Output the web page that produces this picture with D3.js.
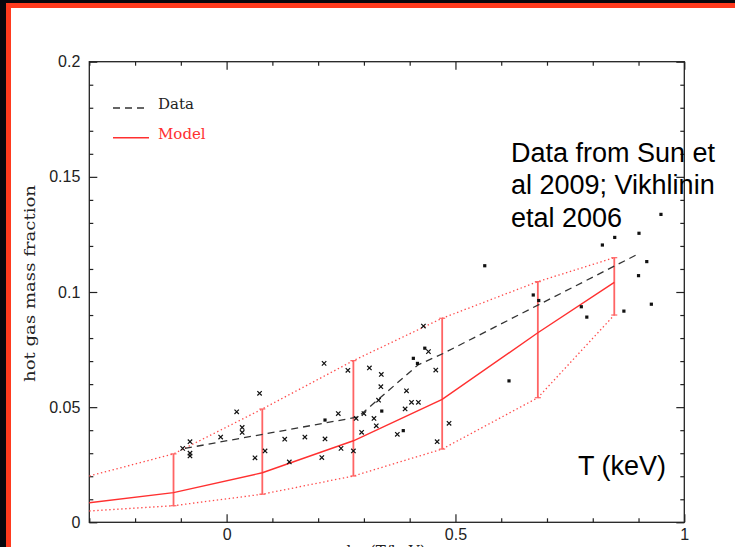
<!DOCTYPE html>
<html>
<head>
<meta charset="utf-8">
<script src="https://cdn.jsdelivr.net/npm/d3@7"></script>
<style>
  body { margin: 0; background: #07070d; }
  svg { display: block; }
</style>
</head>
<body>
<svg width="735" height="547"></svg>
<script>
// hot gas mass fraction vs log T, data points + model band

const xMajor = [0, 0.5, 1];
const xMajorLabels = ["0", "0.5", "1"];
const yMajor = [0, 0.05, 0.1, 0.15, 0.2];
const yMajorLabels = ["0", "0.05", "0.1", "0.15", "0.2"];

// model bins (error bars)
const binX  = [-0.116, 0.078, 0.277, 0.471, 0.680, 0.847];
const binHi = [0.0297, 0.0492, 0.0702, 0.0886, 0.1045, 0.1149];
const binLo = [0.0072, 0.0122, 0.0201, 0.0318, 0.0541, 0.0900];
const modelY = [0.0129, 0.0215, 0.0354, 0.0534, 0.0823, 0.1042];
// where model curves meet the left frame
const edgeX = -0.3;
const edgeModel = 0.0085, edgeHi = 0.0201, edgeLo = 0.0049;

// dashed data trend
const trendX = [-0.091, 0.287, 0.418, 0.473, 0.903];
const trendY = [0.0321, 0.0457, 0.0683, 0.0733, 0.1169];

// cross markers
const crossX = [-0.096, -0.080, -0.080, -0.080, -0.013, 0.022, 0.034, 0.034, 0.072, 0.062,
                0.084, 0.127, 0.137, 0.171, 0.213, 0.215, 0.208, 0.244, 0.250, 0.265,
                0.277, 0.283, 0.295, 0.300, 0.312, 0.322, 0.327, 0.332, 0.338, 0.337,
                0.393, 0.404, 0.419, 0.390, 0.373, 0.430, 0.441, 0.457, 0.486, 0.460];
const crossY = [0.0321, 0.0350, 0.0300, 0.0288, 0.0370, 0.0480, 0.0412, 0.0390, 0.0560, 0.0280,
                0.0310, 0.0361, 0.0262, 0.0370, 0.0690, 0.0362, 0.0281, 0.0472, 0.0321, 0.0660,
                0.0310, 0.0451, 0.0391, 0.0472, 0.0670, 0.0451, 0.0419, 0.0530, 0.0642, 0.0589,
                0.0571, 0.0521, 0.0521, 0.0492, 0.0382, 0.0852, 0.0741, 0.0661, 0.0430, 0.0350];

// filled square markers
const dotX = [0.215, 0.339, 0.386, 0.408, 0.417, 0.433, 0.564, 0.617, 0.670, 0.682,
              0.775, 0.787, 0.821, 0.848, 0.868, 0.901, 0.918, 0.900, 0.928, 0.949];
const dotY = [0.0444, 0.0483, 0.0398, 0.0712, 0.0690, 0.0756, 0.1114, 0.0614, 0.0987, 0.0963,
              0.0936, 0.0891, 0.1204, 0.1237, 0.0917, 0.1255, 0.1132, 0.1071, 0.0947, 0.1337];

const noteLines = ["Data from Sun et", "al 2009; Vikhlinin", "etal 2006"];

const svg = d3.select("svg");

// slide frame: red border, white page
svg.append("rect").attr("x", 6).attr("y", 3).attr("width", 740).attr("height", 560).attr("fill", "#ff3a1e");
svg.append("rect").attr("x", 11).attr("y", 8).attr("width", 740).attr("height", 560).attr("fill", "#ffffff");

const pLeft = 89.3, pRight = 684.3, pTop = 61.7, pBottom = 522.3;

const x = d3.scaleLinear().domain([-0.3, 1]).range([pLeft, pRight]);
const y = d3.scaleLinear().domain([0, 0.2]).range([pBottom, pTop]);

const xMinor = d3.range(-3, 10).map(d => d / 10).filter(d => !xMajor.some(m => Math.abs(m - d) < 1e-6));
const yMinor = d3.range(1, 20).map(d => d / 100).filter(d => !yMajor.some(m => Math.abs(m - d) < 1e-6));

const axisColor = "#222";
const tickFont = "'Liberation Sans', Arial, sans-serif";

function styleAxis(g) {
  g.select(".domain").remove();
  g.selectAll(".tick line").attr("stroke", axisColor).attr("stroke-width", 1.2);
  g.selectAll(".tick text").attr("fill", "#222").attr("font-size", 16).attr("font-family", tickFont);
}

// bottom
svg.append("g").attr("transform", `translate(0,${pBottom})`)
  .call(d3.axisBottom(x).tickValues(xMajor).tickSize(-8).tickPadding(6)
    .tickFormat((d, i) => xMajorLabels[i]))
  .call(styleAxis);
svg.append("g").attr("transform", `translate(0,${pBottom})`)
  .call(d3.axisBottom(x).tickValues(xMinor).tickSize(-4).tickFormat(""))
  .call(styleAxis);
// top
svg.append("g").attr("transform", `translate(0,${pTop})`)
  .call(d3.axisTop(x).tickValues(xMajor).tickSize(-8).tickFormat(""))
  .call(styleAxis);
svg.append("g").attr("transform", `translate(0,${pTop})`)
  .call(d3.axisTop(x).tickValues(xMinor).tickSize(-4).tickFormat(""))
  .call(styleAxis);
// left
svg.append("g").attr("transform", `translate(${pLeft},0)`)
  .call(d3.axisLeft(y).tickValues(yMajor).tickSize(-8).tickPadding(9)
    .tickFormat((d, i) => yMajorLabels[i]))
  .call(styleAxis);
svg.append("g").attr("transform", `translate(${pLeft},0)`)
  .call(d3.axisLeft(y).tickValues(yMinor).tickSize(-4).tickFormat(""))
  .call(styleAxis);
// right
svg.append("g").attr("transform", `translate(${pRight},0)`)
  .call(d3.axisRight(y).tickValues(yMajor).tickSize(-8).tickFormat(""))
  .call(styleAxis);
svg.append("g").attr("transform", `translate(${pRight},0)`)
  .call(d3.axisRight(y).tickValues(yMinor).tickSize(-4).tickFormat(""))
  .call(styleAxis);

svg.append("rect")
  .attr("x", pLeft).attr("y", pTop)
  .attr("width", pRight - pLeft).attr("height", pBottom - pTop)
  .attr("fill", "none").attr("stroke", axisColor).attr("stroke-width", 1.3);

const line = d3.line().x(d => x(d[0])).y(d => y(d[1]));

// dotted envelope
const hiPts = [[edgeX, edgeHi]].concat(binX.map((v, i) => [v, binHi[i]]));
const loPts = [[edgeX, edgeLo]].concat(binX.map((v, i) => [v, binLo[i]]));
[hiPts, loPts].forEach(p => {
  svg.append("path").attr("d", line(p))
    .attr("fill", "none").attr("stroke", "#ff4a4a").attr("stroke-width", 1.3)
    .attr("stroke-dasharray", "1.4,2.6");
});

// error bars
const bars = svg.append("g");
binX.forEach((v, i) => {
  const px = x(v);
  bars.append("line").attr("x1", px).attr("x2", px).attr("y1", y(binLo[i])).attr("y2", y(binHi[i]))
    .attr("stroke", "#ff6464").attr("stroke-width", 1.8);
  [binLo[i], binHi[i]].forEach(e => {
    bars.append("line").attr("x1", px - 3).attr("x2", px + 3).attr("y1", y(e)).attr("y2", y(e))
      .attr("stroke", "#ff6464").attr("stroke-width", 1.2);
  });
});

// model line
const modelPts = [[edgeX, edgeModel]].concat(binX.map((v, i) => [v, modelY[i]]));
svg.append("path").attr("d", line(modelPts))
  .attr("fill", "none").attr("stroke", "#ff3030").attr("stroke-width", 1.4);

// dashed data trend
svg.append("path").attr("d", line(trendX.map((v, i) => [v, trendY[i]])))
  .attr("fill", "none").attr("stroke", "#333").attr("stroke-width", 1.3)
  .attr("stroke-dasharray", "7,5");

// crosses
svg.append("g").selectAll("path")
  .data(crossX.map((v, i) => [v, crossY[i]]))
  .enter().append("path")
  .attr("transform", d => `translate(${x(d[0])},${y(d[1])})`)
  .attr("d", "M-2.2,-2.2L2.2,2.2M-2.2,2.2L2.2,-2.2")
  .attr("stroke", "#111").attr("stroke-width", 1.2);

// squares
svg.append("g").selectAll("rect")
  .data(dotX.map((v, i) => [v, dotY[i]]))
  .enter().append("rect")
  .attr("x", d => x(d[0]) - 1.6).attr("y", d => y(d[1]) - 1.6)
  .attr("width", 3.2).attr("height", 3.2).attr("fill", "#111");

// legend
const serif = "'DejaVu Serif', serif";
svg.append("line").attr("x1", 113).attr("x2", 147).attr("y1", 108).attr("y2", 108)
  .attr("stroke", "#333").attr("stroke-width", 1.3).attr("stroke-dasharray", "7,5");
svg.append("text").attr("x", 158).attr("y", 108.5).attr("font-family", serif).attr("font-size", 15)
  .attr("fill", "#222").text("Data");
svg.append("line").attr("x1", 113).attr("x2", 149).attr("y1", 137.7).attr("y2", 137.7)
  .attr("stroke", "#ff3030").attr("stroke-width", 1.4);
svg.append("text").attr("x", 158).attr("y", 138.5).attr("font-family", serif).attr("font-size", 15)
  .attr("fill", "#ff3030").text("Model");

// axis titles
svg.append("text")
  .attr("transform", "translate(35,283.5) rotate(-90)")
  .attr("text-anchor", "middle").attr("font-family", serif).attr("font-size", 15)
  .attr("textLength", 197).attr("lengthAdjust", "spacingAndGlyphs")
  .attr("fill", "#222").text("hot gas mass fraction");
svg.append("text")
  .attr("x", 386).attr("y", 556).attr("text-anchor", "middle")
  .attr("font-family", serif).attr("font-size", 15).attr("fill", "#222")
  .text("log(T/keV)");

// annotations
svg.append("g").selectAll("text")
  .data(noteLines).enter().append("text")
  .attr("x", 511).attr("y", (d, i) => 161.7 + i * 32.5)
  .attr("font-family", tickFont).attr("font-size", 27).attr("fill", "#000")
  .text(d => d);
svg.append("text").attr("x", 578).attr("y", 475)
  .attr("font-family", tickFont).attr("font-size", 27).attr("fill", "#000")
  .text("T (keV)");
</script>
</body>
</html>
